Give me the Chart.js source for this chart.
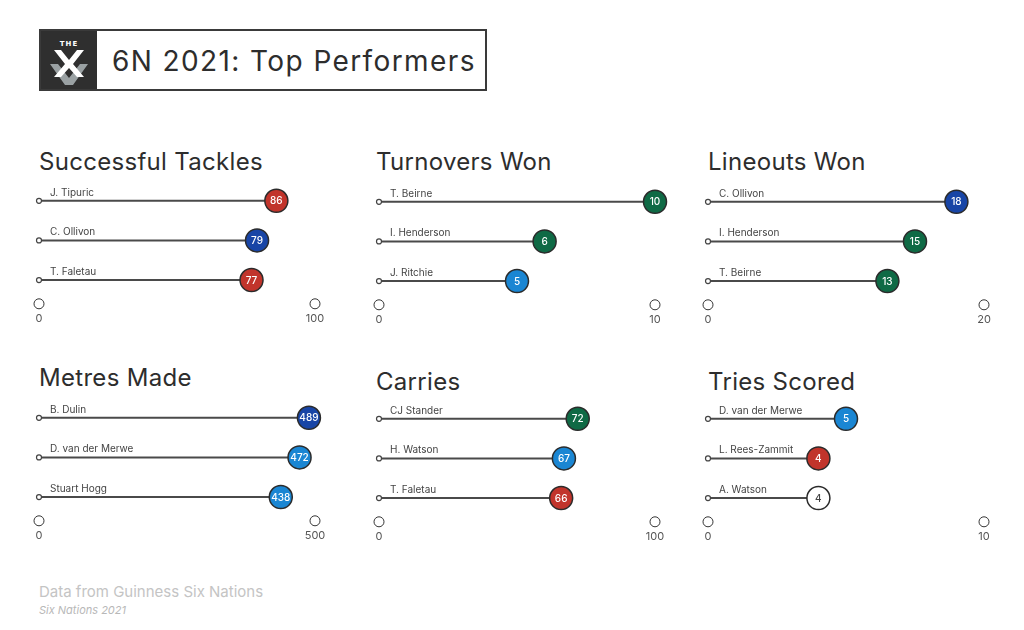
<!DOCTYPE html>
<html>
<head>
<meta charset="utf-8">
<script src="https://cdn.jsdelivr.net/npm/chart.js@4.4.1/dist/chart.umd.min.js"></script>
<style>
  body { margin: 0; width: 1024px; height: 630px; background: #fff; position: relative; overflow: hidden; font-family: 'Inter', sans-serif; }
  .header { position: absolute; left: 39px; top: 29px; width: 444px; height: 58px; border: 2px solid #3a3a3a; }
  .logo { position: absolute; left: 0; top: 0; width: 56px; height: 58px; background: #2f2f2f; }
  .header h1 { position: absolute; left: 71px; top: 0; margin: 0; line-height: 60px; font-size: 28px; font-weight: 400; color: #2d2d2d; letter-spacing: 1.4px; white-space: nowrap; }
  .ptitle { position: absolute; margin: 0; font-size: 24px; font-weight: 400; color: #2d2d2d; letter-spacing: 0.3px; line-height: 24px; white-space: nowrap; }
  canvas { position: absolute; }
  .src { position: absolute; left: 39px; top: 582px; font-size: 15px; color: #c4c4c4; }
  .sub { position: absolute; left: 39px; top: 603px; font-size: 11px; font-style: italic; color: #b8b8b8; }
</style>
</head>
<body>
<div class="header">
  <div class="logo">
    <svg width="56" height="58" viewBox="0 0 56 58">
      <text x="28" y="15" text-anchor="middle" font-family="DejaVu Sans" font-weight="bold" font-size="7" fill="#fff" letter-spacing="1">THE</text>
      <polygon points="9,33 17,33 28,47 39,33 47,33 32,54 24,54" fill="#9aa1a3"/>
      <polygon points="13,19 20,19 28,29 36,19 43,19 32,33 43,46 36,46 28,37 20,46 13,46 24,33" fill="#fff"/>
    </svg>
  </div>
  <h1>6N 2021: Top Performers</h1>
</div>

<div class="ptitle" style="left:39px;top:150px">Successful Tackles</div>
<div class="ptitle" style="left:376px;top:150px">Turnovers Won</div>
<div class="ptitle" style="left:708px;top:150px">Lineouts Won</div>
<div class="ptitle" style="left:39px;top:366px">Metres Made</div>
<div class="ptitle" style="left:376px;top:370px">Carries</div>
<div class="ptitle" style="left:708px;top:370px">Tries Scored</div>

<canvas id="c1" width="316" height="156" style="left:19px;top:177px"></canvas>
<canvas id="c2" width="316" height="156" style="left:359px;top:178px"></canvas>
<canvas id="c3" width="316" height="156" style="left:688px;top:178px"></canvas>
<canvas id="c4" width="316" height="156" style="left:19px;top:394px"></canvas>
<canvas id="c5" width="316" height="156" style="left:359px;top:395px"></canvas>
<canvas id="c6" width="316" height="156" style="left:688px;top:395px"></canvas>

<div class="src">Data from Guinness Six Nations</div>
<div class="sub">Six Nations 2021</div>

<script>
// data
const tackleNames = ['J. Tipuric', 'C. Ollivon', 'T. Faletau'];
const tackleValues = [86, 79, 77];
const tackleTeams = ['WAL', 'FRA', 'WAL'];
const tackleTicks = [0, 100];

const turnoverNames = ['T. Beirne', 'I. Henderson', 'J. Ritchie'];
const turnoverValues = [10, 6, 5];
const turnoverTeams = ['IRE', 'IRE', 'SCO'];
const turnoverTicks = [0, 10];

const lineoutNames = ['C. Ollivon', 'I. Henderson', 'T. Beirne'];
const lineoutValues = [18, 15, 13];
const lineoutTeams = ['FRA', 'IRE', 'IRE'];
const lineoutTicks = [0, 20];

const metresNames = ['B. Dulin', 'D. van der Merwe', 'Stuart Hogg'];
const metresValues = [489, 472, 438];
const metresTeams = ['FRA', 'SCO', 'SCO'];
const metresTicks = [0, 500];

const carryNames = ['CJ Stander', 'H. Watson', 'T. Faletau'];
const carryValues = [72, 67, 66];
const carryTeams = ['IRE', 'SCO', 'WAL'];
const carryTicks = [0, 100];

const tryNames = ['D. van der Merwe', 'L. Rees-Zammit', 'A. Watson'];
const tryValues = [5, 4, 4];
const tryTeams = ['SCO', 'WAL', 'ENG'];
const tryTicks = [0, 10];

// styles
const teamColors = { WAL: '#c1342b', FRA: '#1845a6', SCO: '#1a86d3', IRE: '#0f6a45', ENG: '#ffffff' };
const teamText = { WAL: '#fff', FRA: '#fff', SCO: '#fff', IRE: '#fff', ENG: '#444' };
const AXIS_ROW = 2.6;

Chart.defaults.font.family = 'Inter';

const labelPlugin = {
    id: 'lollipopLabels',
    afterDatasetsDraw(chart) {
        const ctx = chart.ctx;
        const xs = chart.scales.x, ys = chart.scales.y;
        const { names, values, teams } = chart.options.plugins.lollipopLabels;
        ctx.save();
        names.forEach((name, i) => {
            const y = ys.getPixelForValue(i);
            ctx.font = '10px Inter';
            ctx.fillStyle = '#444';
            ctx.textAlign = 'left';
            ctx.textBaseline = 'alphabetic';
            ctx.fillText(name, xs.getPixelForValue(0) + 11, y - 5);
            ctx.font = '500 10px Inter';
            ctx.fillStyle = teamText[teams[i]];
            ctx.textAlign = 'center';
            ctx.textBaseline = 'middle';
            ctx.fillText(String(values[i]), xs.getPixelForValue(values[i]), y + 0.5);
        });
        ctx.restore();
    }
};

function makeChart(id, names, values, teams, ticks) {
    const datasets = names.map((n, i) => ({
        label: n,
        data: [{ x: 0, y: i }, { x: values[i], y: i }],
        showLine: true,
        borderColor: '#4a4a4a',
        borderWidth: 2,
        pointRadius: [2.5, 11.5],
        pointBackgroundColor: ['#fff', teamColors[teams[i]]],
        pointBorderColor: ['#444', '#2b2b2b'],
        pointBorderWidth: [1.2, 1.5],
        clip: false
    }));
    datasets.push({
        label: 'axis',
        data: ticks.map(t => ({ x: t, y: AXIS_ROW })),
        showLine: false,
        pointRadius: 5,
        pointBackgroundColor: '#fff',
        pointBorderColor: '#333',
        pointBorderWidth: 1,
        clip: false
    });
    return new Chart(document.getElementById(id), {
        type: 'scatter',
        data: { datasets: datasets },
        options: {
            responsive: false,
            animation: false,
            layout: { autoPadding: false, padding: { left: 20, right: 20, top: 0, bottom: 0 } },
            plugins: {
                legend: { display: false },
                tooltip: { enabled: false },
                lollipopLabels: { names: names, values: values, teams: teams }
            },
            scales: {
                x: {
                    type: 'linear',
                    min: ticks[0],
                    max: ticks[ticks.length - 1],
                    grid: { display: false, drawTicks: false, tickLength: 0 },
                    border: { display: false },
                    afterBuildTicks: axis => { axis.ticks = ticks.map(v => ({ value: v })); },
                    ticks: { color: '#555', font: { size: 11 }, padding: 8, maxRotation: 0 }
                },
                y: {
                    type: 'linear',
                    display: false,
                    reverse: true,
                    min: -0.6,
                    max: AXIS_ROW
                }
            }
        },
        plugins: [labelPlugin]
    });
}

makeChart('c1', tackleNames, tackleValues, tackleTeams, tackleTicks);
makeChart('c2', turnoverNames, turnoverValues, turnoverTeams, turnoverTicks);
makeChart('c3', lineoutNames, lineoutValues, lineoutTeams, lineoutTicks);
makeChart('c4', metresNames, metresValues, metresTeams, metresTicks);
makeChart('c5', carryNames, carryValues, carryTeams, carryTicks);
makeChart('c6', tryNames, tryValues, tryTeams, tryTicks);
</script>
</body>
</html>
